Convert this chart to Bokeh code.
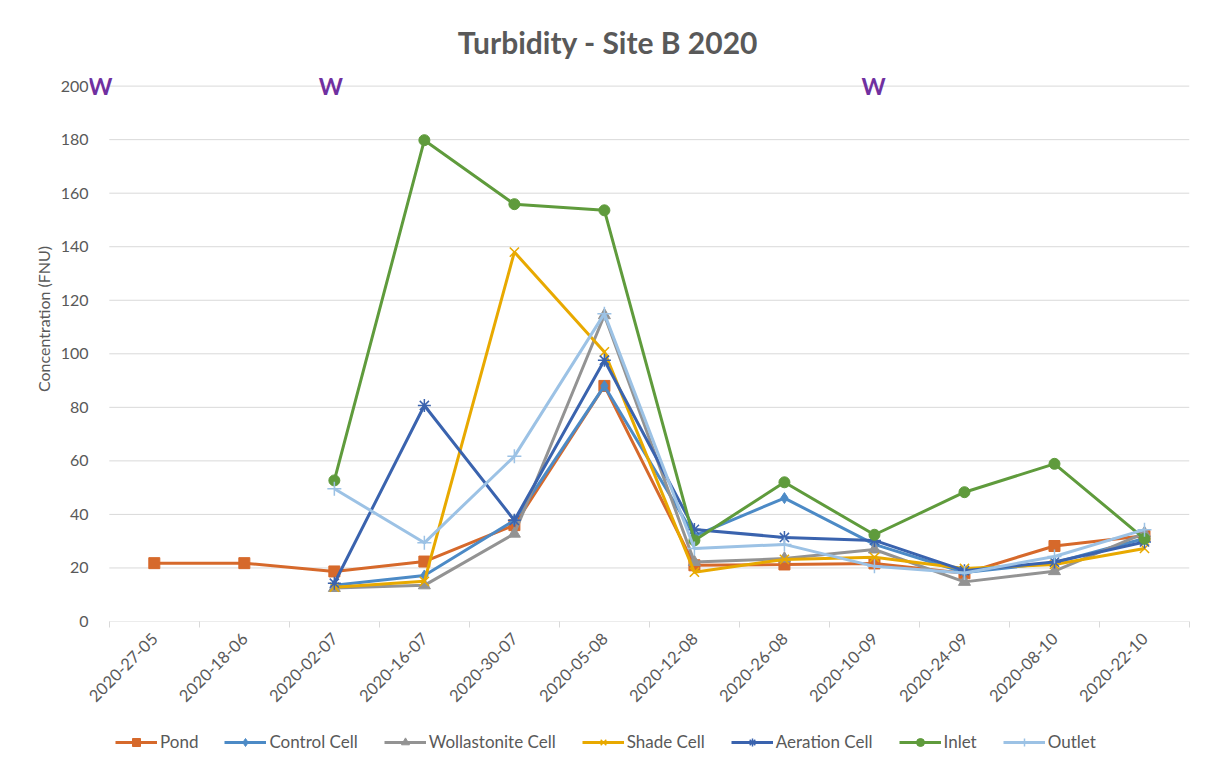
import math
from bokeh.plotting import figure
from bokeh.layouts import column
from bokeh.models import Range1d, FixedTicker, Label, Legend, LegendItem
from bokeh.embed import file_html
from bokeh.resources import INLINE

nan = float("nan")

categories = ["2020-27-05", "2020-18-06", "2020-02-07", "2020-16-07", "2020-30-07", "2020-05-08",
              "2020-12-08", "2020-26-08", "2020-10-09", "2020-24-09", "2020-08-10", "2020-22-10"]

pond = [21.8, 21.8, 18.7, 22.4, 36.0, 88.0, 21.0, 21.3, 21.7, 18.0, 28.2, 32.0]
control = [nan, nan, 13.5, 17.2, 37.8, 88.0, 32.0, 46.1, 28.8, 18.3, 22.0, 31.0]
wollastonite = [nan, nan, 12.5, 13.5, 32.8, 114.4, 22.2, 23.5, 26.9, 14.8, 18.8, 33.0]
shade = [nan, nan, 12.8, 15.0, 138.0, 100.7, 18.4, 23.2, 24.0, 19.8, 21.3, 27.3]
aeration = [nan, nan, 14.3, 80.7, 37.8, 97.6, 34.4, 31.4, 30.3, 19.0, 22.2, 29.7]
inlet = [nan, nan, 52.7, 179.8, 155.9, 153.6, 30.3, 52.0, 32.4, 48.3, 58.9, 30.9]
outlet = [nan, nan, 49.6, 29.4, 61.7, 115.0, 27.3, 28.8, 20.6, 18.1, 24.3, 34.3]

series_names = ["Pond", "Control Cell", "Wollastonite Cell", "Shade Cell", "Aeration Cell", "Inlet", "Outlet"]
series_values = [pond, control, wollastonite, shade, aeration, inlet, outlet]
series_colors = ["#D6692B", "#4C8AC6", "#939393", "#E8A900", "#3A63AE", "#5F9B3C", "#9CC2E5"]
series_markers = ["square", "diamond", "triangle", "x", "asterisk", "circle", "cross"]
marker_sizes = [11, 11, 12, 13, 13, 11, 14]

y_ticks = list(range(0, 201, 20))

w_label = "W"
w_x = [-0.1, 2.46, 8.49]
w_y = [200, 200, 200]

title_text = "Turbidity - Site B 2020"

FONT = "Lato"
GRAY = "#595959"
GRID = "#D9D9D9"

n = len(categories)
X0 = -0.22          # extra room on the left for the first "W"
Y1 = 226            # extra room on top for the title and the "W" marks

p = figure(frame_width=round((n - X0) * 90), frame_height=round(Y1 * 2.677),
           output_backend="svg", toolbar_location=None,
           x_range=Range1d(X0, n), y_range=Range1d(0, Y1),
           min_border_left=89, min_border_right=26, min_border_top=16, min_border_bottom=100)
p.outline_line_color = None
p.background_fill_color = "white"
p.border_fill_color = "white"
p.xgrid.grid_line_color = None
p.ygrid.grid_line_color = None

# gridlines spanning the category area only
p.segment(x0=[0] * len(y_ticks), x1=[n] * len(y_ticks), y0=y_ticks, y1=y_ticks,
          line_color=GRID, line_width=1)

xs = [i + 0.5 for i in range(n)]

# legend strip below the chart (its own ranges keep the series out of view)
p2 = figure(width=1215, height=40, output_backend="svg", toolbar_location=None,
            x_axis_type=None, y_axis_type=None, min_border=0,
            x_range=Range1d(0, 1), y_range=Range1d(-10, -9))
p2.outline_line_color = None
p2.xgrid.grid_line_color = None
p2.ygrid.grid_line_color = None
p2.border_fill_color = "white"

legend_items = []
for name, vals, col, mk, ms in zip(series_names, series_values, series_colors, series_markers, marker_sizes):
    p.line(xs, vals, line_color=col, line_width=3)
    kw = dict(marker=mk, size=ms, line_color=col, fill_color=col)
    if mk in ("x", "asterisk", "cross"):
        kw["line_width"] = 1.5
    p.scatter(xs, vals, **kw)
    l1 = p2.line(xs, vals, line_color=col, line_width=3)
    l2 = p2.scatter(xs, vals, **kw)
    legend_items.append(LegendItem(label=name, renderers=[l1, l2]))

# x axis
p.xaxis.ticker = FixedTicker(ticks=xs, minor_ticks=list(range(n + 1)))
p.xaxis.major_label_overrides = {x: c for x, c in zip(xs, categories)}
p.xaxis.major_label_orientation = math.pi / 4
p.xaxis.major_tick_line_color = None
p.xaxis.minor_tick_line_color = GRID
p.xaxis.minor_tick_in = 0
p.xaxis.minor_tick_out = 6
p.xaxis.axis_line_color = None
p.xaxis.major_label_text_font = FONT
p.xaxis.major_label_text_font_size = "16.5px"
p.xaxis.major_label_text_color = GRAY
p.xaxis.major_label_standoff = 8

# y axis
p.yaxis.ticker = FixedTicker(ticks=y_ticks)
p.yaxis.axis_line_color = None
p.yaxis.major_tick_line_color = None
p.yaxis.minor_tick_line_color = None
p.yaxis.major_tick_in = 0
p.yaxis.major_tick_out = 0
p.yaxis.major_label_text_font = FONT
p.yaxis.major_label_text_font_size = "16px"
p.yaxis.major_label_text_color = GRAY
p.yaxis.major_label_standoff = 1
p.yaxis.axis_label = "Concentration (FNU)"
p.yaxis.axis_label_text_font = FONT
p.yaxis.axis_label_text_font_size = "16px"
p.yaxis.axis_label_text_font_style = "normal"
p.yaxis.axis_label_text_color = GRAY
p.yaxis.axis_label_standoff = 5

# W annotations
for wx, wy in zip(w_x, w_y):
    p.add_layout(Label(x=wx, y=wy, text=w_label, text_align="center", text_baseline="middle",
                       text_font=FONT, text_font_size="23px", text_font_style="bold",
                       text_color="#7030A0"))

# title
p.add_layout(Label(x=5.54, y=216.3, text=title_text,
                   text_align="center", text_baseline="middle", text_font=FONT,
                   text_font_size="30px", text_font_style="bold", text_color=GRAY))

legend = Legend(items=legend_items, orientation="horizontal", location=(26, 9),
                label_text_font=FONT, label_text_font_size="17px", label_text_color=GRAY,
                glyph_width=42, label_standoff=3, spacing=26, border_line_color=None,
                background_fill_alpha=0, margin=0, padding=4)
p2.add_layout(legend, "center")

open("out.html", "w").write(file_html(column(p, p2, spacing=0), INLINE))
